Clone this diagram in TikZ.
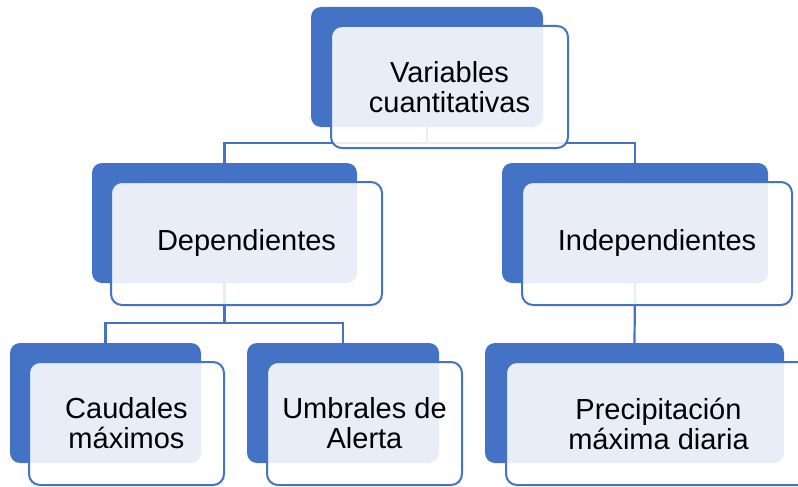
\documentclass[tikz,border=0pt]{standalone}
\usepackage{fontspec}
\setmainfont{Liberation Sans}
\definecolor{accent}{HTML}{4472C4}
\begin{document}
\begin{tikzpicture}[x=1pt,y=-1pt,
  backbox/.style={rectangle, rounded corners=10pt, fill=accent, draw=none, inner sep=0pt},
  frontbox/.style={rectangle, rounded corners=11pt, draw=accent, line width=2pt, fill=white,
    fill opacity=0.88, text opacity=1, inner sep=0pt, align=center,
    font=\fontsize{29}{30}\selectfont},
  link/.style={draw=accent, line width=2.2pt}]
\useasboundingbox (0,0) rectangle (798,487);
% back boxes
\node[backbox, minimum width=232pt, minimum height=120pt] (d-root) at (427,67) {};
\node[backbox, minimum width=265pt, minimum height=120pt] (d-dep) at (224.5,223) {};
\node[backbox, minimum width=266pt, minimum height=120pt] (d-ind) at (635,223) {};
\node[backbox, minimum width=191pt, minimum height=120pt] (d-cau) at (105.5,403) {};
\node[backbox, minimum width=192pt, minimum height=120pt] (d-umb) at (343,403) {};
\node[backbox, minimum width=299pt, minimum height=120pt] (d-pre) at (634.5,403) {};
% connectors
\draw[link] (d-root.south) -- ++(0,16) -| (d-dep.north);
\draw[link] (d-root.south) -- ++(0,16) -| (d-ind.north);
\draw[link] (d-dep.south) -- ++(0,40) -| (d-cau.north);
\draw[link] (d-dep.south) -- ++(0,40) -| (d-umb.north);
\draw[link] (d-ind.south) -- (d-pre.north);
% front boxes
\node[frontbox, minimum width=237pt, minimum height=122pt] (f-root) at (449.5,87) {Variables\\cuantitativas};
\node[frontbox, minimum width=271pt, minimum height=123pt] (f-dep) at (246.5,243.5) {Dependientes};
\node[frontbox, minimum width=270pt, minimum height=123pt] (f-ind) at (657,243.5) {Independientes};
\node[frontbox, minimum width=195pt, minimum height=123pt] (f-cau) at (126.5,423.5) {Caudales\\máximos};
\node[frontbox, minimum width=195pt, minimum height=123pt] (f-umb) at (364.5,423.5) {Umbrales de\\Alerta};
\node[frontbox, minimum width=305pt, minimum height=123pt] (f-pre) at (658.5,423.5) {Precipitación\\máxima diaria};
\end{tikzpicture}
\end{document}
